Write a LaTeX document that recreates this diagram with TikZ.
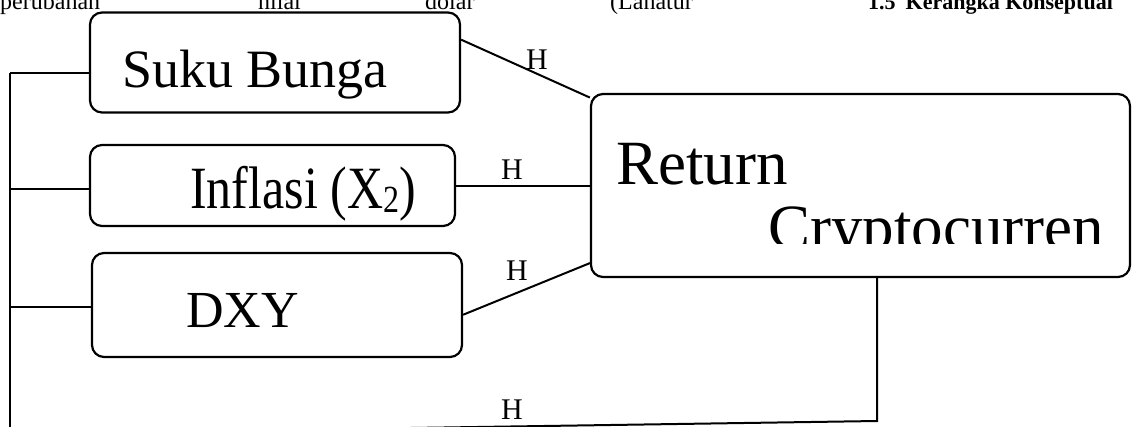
\documentclass[tikz,border=0pt]{standalone}
\usepackage{fontspec}
\setmainfont{Liberation Serif}
\begin{document}
\begin{tikzpicture}[x=1pt,y=-1pt,
  box/.style={draw, line width=2.2pt, rounded corners=12pt, inner sep=0pt},
  conn/.style={line width=2pt},
  lbl/.style={font=\fontsize{30}{32}\selectfont, inner sep=0pt},
  txt/.style={anchor=base west, inner sep=0pt},
  toptxt/.style={anchor=base west, inner sep=0pt, font=\fontsize{24}{26}\selectfont}]
\useasboundingbox (0,0) rectangle (1132,426);
\clip (0,0) rectangle (1132,426);
% top text (cut off)
\node[toptxt] (w1) at (0,9) {perubahan};
\node[toptxt] (w2) at (258,9) {nilai};
\node[toptxt] (w3) at (425,9) {dolar};
\node[toptxt] (w4) at (610,9) {(Lanatur};
\node[toptxt, font=\fontsize{22}{24}\selectfont\bfseries] (w5) at (868,9) {1.5\hspace{10pt}Kerangka Konseptual};
% boxes
\node[box, minimum width=370pt, minimum height=100pt] (suku) at (275,62.5) {};
\node[box, minimum width=365pt, minimum height=81pt] (inf) at (272.5,185.5) {};
\node[box, minimum width=370pt, minimum height=104pt] (dxy) at (277,305) {};
\node[box, minimum width=539pt, minimum height=183pt] (ret) at (860.5,185.5) {};
% texts
\node[txt, font=\fontsize{54}{60}\selectfont] (tsuku) at (122,87) {Suku Bunga};
\node[txt, font=\fontsize{50}{55}\selectfont] (tinf) at (190,208) {\scalebox{1}[1.2]{Inflasi (X\raisebox{-4pt}{\fontsize{32}{32}\selectfont 2})}};
\node[txt, font=\fontsize{52}{56}\selectfont] (tdxy) at (186,327) {DXY};
\node[txt, font=\fontsize{63}{68}\selectfont] (tret) at (616,184) {Return};
\begin{scope}
\clip (591,94) rectangle (1130,243);
\node[txt, font=\fontsize{63}{68}\selectfont] (tcry) at (768,248) {Cryptocurren};
\end{scope}
% connectors
\coordinate (lt) at (10,73);
\coordinate (li) at (10,189);
\coordinate (ld) at (10,307);
\coordinate (lb) at (10,440);
\draw[conn] (lt) -- (lb);
\draw[conn] (lt) -- (lt -| suku.west);
\draw[conn] (li) -- (li -| inf.west);
\draw[conn] (ld) -- (ld -| dxy.west);
\draw[conn] (suku.7) -- (ret.162);
\draw[conn] (inf.east) -- (inf.east -| ret.west);
\draw[conn] (dxy.-3) -- (ret.196);
\coordinate (rb) at (877,421);
\coordinate (bl) at (10,434);
\draw[conn] (ret.south -| rb) -- (rb) -- (bl);
% labels
\node[lbl] (h1) at (537,60) {H};
\node[lbl] (h2) at (512,170) {H};
\node[lbl] (h3) at (517,271) {H};
\node[lbl] (h4) at (512,410) {H};
\end{tikzpicture}
\end{document}
